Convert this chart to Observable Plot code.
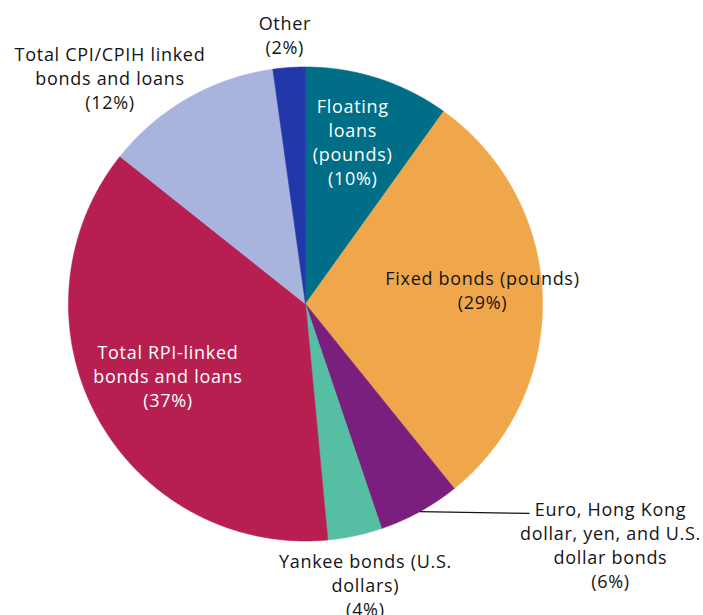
<!DOCTYPE html>
<html>
<head>
<meta charset="utf-8">
<script src="https://cdn.jsdelivr.net/npm/d3@7"></script>
<script src="https://cdn.jsdelivr.net/npm/@observablehq/plot@0.6"></script>
<style>
  html, body { margin: 0; padding: 0; background: #fff; }
  #chart svg { display: block; }
  #chart svg text { letter-spacing: 0.7px; }
</style>
</head>
<body>
<div id="chart"></div>
<script>
// ---- data (clockwise from 12 o'clock) ----
const categories = [
  "Floating loans (pounds)",
  "Fixed bonds (pounds)",
  "Euro, Hong Kong dollar, yen, and U.S. dollar bonds",
  "Yankee bonds (U.S. dollars)",
  "Total RPI-linked bonds and loans",
  "Total CPI/CPIH linked bonds and loans",
  "Other"
];
const shares = [9.9, 29.3, 5.6, 3.7, 37.2, 12.1, 2.2];
const pctLabels = ["10%", "29%", "6%", "4%", "37%", "12%", "2%"];
const labelLines = [
  "Floating\nloans\n(pounds)",
  "Fixed bonds (pounds)",
  "Euro, Hong Kong\ndollar, yen, and U.S.\ndollar bonds",
  "Yankee bonds (U.S.\ndollars)",
  "Total RPI-linked\nbonds and loans",
  "Total CPI/CPIH linked\nbonds and loans",
  "Other"
];
const colors = ["#006e87", "#f0a74c", "#7b1f7e", "#55bea3", "#b71f51", "#a9b4de", "#2237aa"];
const textColors = ["#ffffff", "#141414", "#141414", "#141414", "#ffffff", "#141414", "#141414"];

// ---- layout (label radius as fraction of pie radius, plus pixel nudges) ----
const labelRadius = [0.72, 0.747, 1.156, 1.21, 0.66, 1.103, 1.14];
const labelDx = [-5, 0, 173, 0, 0, -66, -2];
const labelDy = [0, -10, 0, 0, -3, 0, 0];
const R = 237; // pie radius in px (matches scale range below)

// ---- geometry from data ----
const pie = d3.pie().sort(null).value(d => d)(shares);
const pt = (a, r) => ({x: r * Math.sin(a), y: r * Math.cos(a)});

const slicePts = pie.map((p, i) => {
  const pts = [{...pt(0, 0), k: i}];
  const n = Math.max(4, Math.ceil((p.endAngle - p.startAngle) / (Math.PI / 720)));
  for (let j = 0; j <= n; j++) {
    const a = p.startAngle + (p.endAngle - p.startAngle) * j / n;
    pts.push({...pt(a, 1), k: i});
  }
  return pts;
});

const labels = pie.map((p, i) => {
  const mid = (p.startAngle + p.endAngle) / 2;
  const q = pt(mid, labelRadius[i]);
  return {
    x: q.x + labelDx[i] / R,
    y: q.y - labelDy[i] / R,
    text: labelLines[i] + "\n(" + pctLabels[i] + ")",
    fill: textColors[i]
  };
});

// leader line for the Euro slice
const ei = 2;
const emid = (pie[ei].startAngle + pie[ei].endAngle) / 2;
const e0 = pt(emid, 1);
const leader = [{x1: e0.x, y1: e0.y, x2: e0.x + 110 / R, y2: e0.y - 1.7 / R}];

const marks = slicePts.map((pts, i) =>
  Plot.line(pts, {x: "x", y: "y", curve: "linear-closed", fill: colors[i], stroke: colors[i], strokeWidth: 0.6})
);
marks.push(Plot.link(leader, {x1: "x1", y1: "y1", x2: "x2", y2: "y2", stroke: "#141414", strokeWidth: 1.3}));
marks.push(Plot.text(labels, {
  x: "x", y: "y", text: "text", fill: "fill",
  fontSize: 18, lineHeight: 24 / 18, textAnchor: "middle", lineAnchor: "middle",
  fontFamily: "Open Sans"
}));

const chart = Plot.plot({
  width: 703,
  height: 615,
  marginLeft: 68,
  marginRight: 161,
  marginTop: 66.5,
  marginBottom: 74.5,
  x: {domain: [-1, 1], axis: null},
  y: {domain: [-1, 1], axis: null},
  style: {background: "#fff", overflow: "visible"},
  marks
});
document.getElementById("chart").appendChild(chart);
</script>
</body>
</html>
